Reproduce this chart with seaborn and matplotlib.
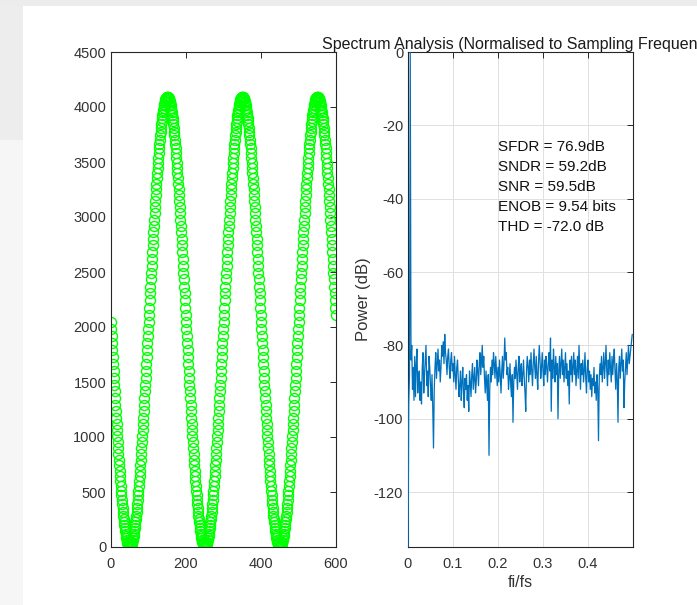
import numpy as np
import pandas as pd
import matplotlib
matplotlib.use("Agg")
import matplotlib.pyplot as plt
import seaborn as sns
from matplotlib.patches import Rectangle

# ---------------- data ----------------
# ADC output codes (600 samples, 3 periods of the test tone)
adc_codes = [
    2048, 1984, 1919, 1855, 1791, 1728, 1664, 1601, 1539, 1477, 1415, 1355, 1294, 1235, 1176, 1119, 1062, 1006, 951, 897,
    845, 793, 743, 694, 647, 601, 556, 513, 471, 431, 392, 355, 320, 286, 254, 224, 196, 169, 145, 122,
    101, 82, 65, 50, 37, 26, 17, 10, 5, 2,
    1, 2, 5, 10, 17, 26, 37, 50, 65, 82, 101, 122, 145, 169, 196, 224, 254, 286, 320, 355,
    392, 431, 471, 513, 556, 601, 647, 694, 743, 793, 845, 897, 951, 1006, 1062, 1119, 1176, 1235, 1294, 1355,
    1415, 1477, 1539, 1601, 1664, 1728, 1791, 1855, 1919, 1984,
    2048, 2112, 2177, 2241, 2305, 2368, 2432, 2495, 2557, 2619, 2681, 2741, 2802, 2861, 2920, 2977, 3034, 3090, 3145, 3199,
    3251, 3303, 3353, 3402, 3449, 3495, 3540, 3583, 3625, 3665, 3704, 3741, 3776, 3810, 3842, 3872, 3900, 3927, 3951, 3974,
    3995, 4014, 4031, 4046, 4059, 4070, 4079, 4086, 4091, 4094,
    4095, 4094, 4091, 4086, 4079, 4070, 4059, 4046, 4031, 4014, 3995, 3974, 3951, 3927, 3900, 3872, 3842, 3810, 3776, 3741,
    3704, 3665, 3625, 3583, 3540, 3495, 3449, 3402, 3353, 3303, 3251, 3199, 3145, 3090, 3034, 2977, 2920, 2861, 2802, 2741,
    2681, 2619, 2557, 2495, 2432, 2368, 2305, 2241, 2177, 2112,
    2048, 1984, 1919, 1855, 1791, 1728, 1664, 1601, 1539, 1477, 1415, 1355, 1294, 1235, 1176, 1119, 1062, 1006, 951, 897,
    845, 793, 743, 694, 647, 601, 556, 513, 471, 431, 392, 355, 320, 286, 254, 224, 196, 169, 145, 122,
    101, 82, 65, 50, 37, 26, 17, 10, 5, 2,
    1, 2, 5, 10, 17, 26, 37, 50, 65, 82, 101, 122, 145, 169, 196, 224, 254, 286, 320, 355,
    392, 431, 471, 513, 556, 601, 647, 694, 743, 793, 845, 897, 951, 1006, 1062, 1119, 1176, 1235, 1294, 1355,
    1415, 1477, 1539, 1601, 1664, 1728, 1791, 1855, 1919, 1984,
    2048, 2112, 2177, 2241, 2305, 2368, 2432, 2495, 2557, 2619, 2681, 2741, 2802, 2861, 2920, 2977, 3034, 3090, 3145, 3199,
    3251, 3303, 3353, 3402, 3449, 3495, 3540, 3583, 3625, 3665, 3704, 3741, 3776, 3810, 3842, 3872, 3900, 3927, 3951, 3974,
    3995, 4014, 4031, 4046, 4059, 4070, 4079, 4086, 4091, 4094,
    4095, 4094, 4091, 4086, 4079, 4070, 4059, 4046, 4031, 4014, 3995, 3974, 3951, 3927, 3900, 3872, 3842, 3810, 3776, 3741,
    3704, 3665, 3625, 3583, 3540, 3495, 3449, 3402, 3353, 3303, 3251, 3199, 3145, 3090, 3034, 2977, 2920, 2861, 2802, 2741,
    2681, 2619, 2557, 2495, 2432, 2368, 2305, 2241, 2177, 2112,
    2048, 1984, 1919, 1855, 1791, 1728, 1664, 1601, 1539, 1477, 1415, 1355, 1294, 1235, 1176, 1119, 1062, 1006, 951, 897,
    845, 793, 743, 694, 647, 601, 556, 513, 471, 431, 392, 355, 320, 286, 254, 224, 196, 169, 145, 122,
    101, 82, 65, 50, 37, 26, 17, 10, 5, 2,
    1, 2, 5, 10, 17, 26, 37, 50, 65, 82, 101, 122, 145, 169, 196, 224, 254, 286, 320, 355,
    392, 431, 471, 513, 556, 601, 647, 694, 743, 793, 845, 897, 951, 1006, 1062, 1119, 1176, 1235, 1294, 1355,
    1415, 1477, 1539, 1601, 1664, 1728, 1791, 1855, 1919, 1984,
    2048, 2112, 2177, 2241, 2305, 2368, 2432, 2495, 2557, 2619, 2681, 2741, 2802, 2861, 2920, 2977, 3034, 3090, 3145, 3199,
    3251, 3303, 3353, 3402, 3449, 3495, 3540, 3583, 3625, 3665, 3704, 3741, 3776, 3810, 3842, 3872, 3900, 3927, 3951, 3974,
    3995, 4014, 4031, 4046, 4059, 4070, 4079, 4086, 4091, 4094,
    4095, 4094, 4091, 4086, 4079, 4070, 4059, 4046, 4031, 4014, 3995, 3974, 3951, 3927, 3900, 3872, 3842, 3810, 3776, 3741,
    3704, 3665, 3625, 3583, 3540, 3495, 3449, 3402, 3353, 3303, 3251, 3199, 3145, 3090, 3034, 2977, 2920, 2861, 2802, 2741,
    2681, 2619, 2557, 2495, 2432, 2368, 2305, 2241, 2177, 2112,
]

# Power spectrum in dB, one value per FFT bin (bins 0..299 of a 600-point FFT)
spectrum_db = [
    -140, -96, -88, 0, -84, -80, -92, -86, -95, -83, -94, -85, -81, -93, -89, -87, -95, -90, -96, -86,
    -82, -93, -88, -84, -80, -91, -87, -94, -83, -86, -91, -95, -88, -97, -108, -92, -86, -82, -89, -85,
    -81, -87, -84, -90, -86, -80, -83, -79, -85, -77, -82, -84, -88, -83, -81, -86, -89, -84, -82, -87,
    -85, -90, -83, -88, -92, -86, -84, -89, -94, -91, -87, -95, -90, -86, -93, -97, -89, -92, -88, -95,
    -91, -98, -87, -90, -94, -88, -85, -92, -89, -86, -93, -90, -84, -87, -91, -85, -82, -88, -84, -80,
    -86, -83, -89, -93, -87, -91, -95, -88, -110, -92, -86, -90, -84, -88, -82, -85, -89, -83, -87, -91,
    -86, -90, -84, -88, -93, -87, -83, -89, -85, -78, -84, -82, -88, -86, -92, -89, -85, -91, -94, -88,
    -101, -90, -86, -89, -84, -88, -92, -86, -83, -90, -87, -85, -91, -88, -84, -89, -93, -98, -87, -83,
    -86, -90, -84, -88, -82, -87, -91, -85, -81, -86, -89, -83, -88, -92, -85, -80, -84, -89, -86, -82,
    -87, -91, -84, -88, -83, -86, -90, -85, -82, -87, -78, -98, -84, -89, -81, -86, -90, -83, -88, -85,
    -100, -87, -83, -89, -85, -81, -88, -84, -90, -86, -82, -89, -85, -91, -87, -96, -84, -88, -83, -90,
    -86, -82, -88, -84, -91, -87, -83, -89, -80, -86, -92, -85, -88, -84, -90, -87, -82, -89, -93, -86,
    -84, -90, -87, -92, -88, -94, -89, -91, -86, -93, -90, -95, -88, -92, -106, -89, -85, -88, -83, -90,
    -86, -82, -89, -85, -80, -87, -91, -84, -88, -82, -86, -90, -83, -88, -84, -81, -87, -92, -85, -89,
    -101, -86, -83, -89, -85, -81, -87, -84, -97, -90, -86, -82, -88, -84, -80, -85, -83, -81, -79, -77,
]
n_fft = 600

metrics = ["SFDR = 76.9dB", "SNDR = 59.2dB", "SNR = 59.5dB", "ENOB = 9.54 bits", "THD = -72.0 dB"]
title_text = "Spectrum Analysis (Normalised to Sampling Frequency)"
left_xticks = [0, 200, 400, 600]
left_yticks = [0, 500, 1000, 1500, 2000, 2500, 3000, 3500, 4000, 4500]
right_xticks = [0, 0.1, 0.2, 0.3, 0.4]
right_yticks = [-120, -100, -80, -60, -40, -20, 0]

# ---------------- style ----------------
sns.set_style("white")
plt.rcParams['font.family'] = ['Liberation Sans', 'DejaVu Sans']
plt.rcParams['axes.unicode_minus'] = False

W, H = 697, 605
fig = plt.figure(figsize=(W / 100, H / 100), dpi=100)
fig.patch.set_facecolor('white')
# grey window-frame areas of the original screenshot
fig.add_artist(Rectangle((0, 1 - 6 / H), 1, 6 / H, transform=fig.transFigure,
                         facecolor='#ececec', edgecolor='none', zorder=0))
fig.add_artist(Rectangle((0, 1 - 140 / H), 23 / W, 134 / H, transform=fig.transFigure,
                         facecolor='#ededed', edgecolor='none', zorder=0))
fig.add_artist(Rectangle((0, 0), 23 / W, 1 - 140 / H, transform=fig.transFigure,
                         facecolor='#f6f6f6', edgecolor='none', zorder=0))

ax1 = fig.add_axes([111 / W, 58 / H, 225 / W, 495 / H])
ax2 = fig.add_axes([408 / W, 58 / H, 225 / W, 495 / H])

edge = '#262626'
tick_col = '#333333'

# ---------------- left: time samples ----------------
df_t = pd.DataFrame({"sample": np.arange(len(adc_codes)), "code": adc_codes})
sns.lineplot(data=df_t, x="sample", y="code", ax=ax1, estimator=None, sort=False,
             color='#00ff00', linestyle='none', marker='o', markersize=7.2,
             markerfacecolor='none', markeredgecolor='#00ff00', markeredgewidth=1.0)
ax1.set_xlim(0, 600)
ax1.set_ylim(0, 4500)
ax1.set_xticks(left_xticks)
ax1.set_yticks(left_yticks)
ax1.set_xlabel("")
ax1.set_ylabel("")

# ---------------- right: spectrum ----------------
df_f = pd.DataFrame({"freq": np.arange(len(spectrum_db)) / n_fft, "power": spectrum_db})
sns.lineplot(data=df_f, x="freq", y="power", ax=ax2, estimator=None, sort=False,
             color='#0072bd', linewidth=0.9, zorder=3)
ax2.set_xlim(0, 0.5)
ax2.set_ylim(-135, 0)
ax2.set_xticks(right_xticks)
ax2.set_xticklabels([f"{v:g}" for v in right_xticks])
ax2.set_yticks(right_yticks)
ax2.grid(True, color='#e0e0e0', linewidth=0.7)
ax2.set_axisbelow(True)
ax2.set_xlabel("fi/fs", fontsize=11.5, color=tick_col, labelpad=3)
ax2.set_ylabel("Power (dB)", fontsize=12, color=tick_col, labelpad=2)
ax2.set_title(title_text, fontsize=11.5, pad=2.5, color='#1a1a1a')
ax2.text(0.2, -36.9, "\n".join(metrics), fontsize=11, ha='left', va='center',
         linespacing=1.55, color='#111111')

for ax in (ax1, ax2):
    for s in ax.spines.values():
        s.set_visible(True)
        s.set_color(edge)
        s.set_linewidth(0.8)
    ax.tick_params(direction='in', length=4, width=0.7, colors=edge,
                   labelcolor=tick_col, labelsize=10.5,
                   top=True, right=True)
    ax.tick_params(axis='x', pad=7)
    ax.tick_params(axis='y', pad=3.5)
    ax.set_facecolor('white')

fig.savefig("out.png", dpi=100)
